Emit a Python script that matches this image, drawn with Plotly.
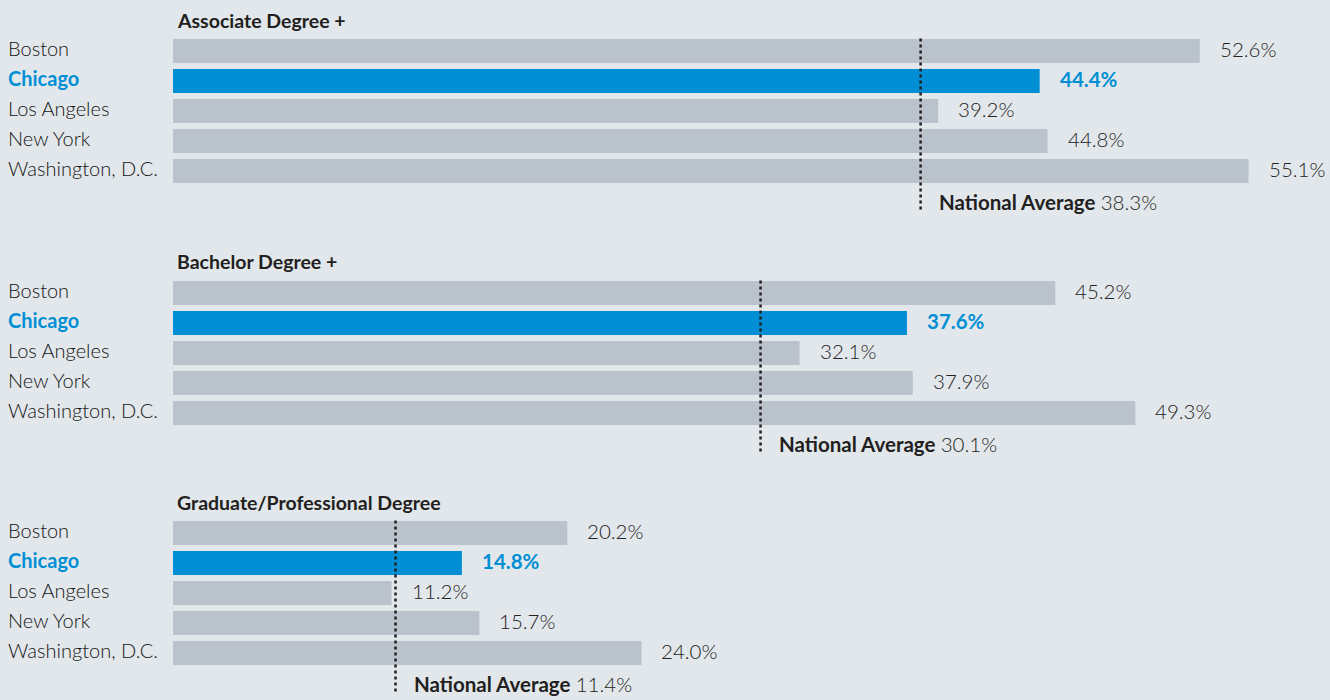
import plotly.graph_objects as go
from plotly.subplots import make_subplots

cities = ["Boston", "Chicago", "Los Angeles", "New York", "Washington, D.C."]
panels = ["Associate Degree +", "Bachelor Degree +", "Graduate/Professional Degree"]
associate = [52.6, 44.4, 39.2, 44.8, 55.1]
bachelor = [45.2, 37.6, 32.1, 37.9, 49.3]
graduate = [20.2, 14.8, 11.2, 15.7, 24.0]
national = [38.3, 30.1, 11.4]
highlight = "Chicago"

BG = "#e2e7eb"
GREY = "#bac3cb"
BLUE = "#008fd5"
INK = "#231f20"
FONT = "Lato"

series = [associate, bachelor, graduate]

fig = make_subplots(rows=3, cols=1, vertical_spacing=0)

# pixel spans of each panel (top, bottom) and row pitch of 30px
spans = [(0, 232), (242, 472), (482, 700)]
first_row = [51, 293, 533]
pitch = 30.0
left = 173
plot_w = 1330 - left

for i, vals in enumerate(series):
    r = i + 1
    colors = [BLUE if c == highlight else GREY for c in cities]
    fig.add_trace(go.Bar(
        x=vals, y=list(range(len(cities))), orientation="h",
        marker=dict(color=colors, line=dict(width=0)),
        width=0.8, showlegend=False, hoverinfo="skip",
    ), row=r, col=1)

    top, bot = spans[i]
    y_top = -(first_row[i] - top) / pitch
    y_bot = (bot - first_row[i]) / pitch
    yax = "yaxis" if i == 0 else f"yaxis{r}"
    xax = "xaxis" if i == 0 else f"xaxis{r}"
    fig.layout[yax].update(range=[y_bot, y_top], domain=[1 - bot / 700, 1 - top / 700],
                           visible=False, fixedrange=True)
    fig.layout[xax].update(range=[0, plot_w / 19.52], visible=False, fixedrange=True)

    xref = "x" if i == 0 else f"x{r}"
    yref = "y" if i == 0 else f"y{r}"

    # panel title
    fig.add_annotation(x=0, y=-1, xref=xref, yref=yref, text=f"<b>{panels[i]}</b>",
                       showarrow=False, xanchor="left", yanchor="middle", xshift=2, yshift=1,
                       font=dict(family=FONT, size=19.5, color=INK))

    for j, c in enumerate(cities):
        hl = c == highlight
        label = f"<b>{c}</b>" if hl else c
        fig.add_annotation(x=(6 - left) / plot_w, y=j, xref="paper", yref=yref, text=label,
                           showarrow=False, xanchor="left", yanchor="middle", yshift=3,
                           font=dict(family=FONT, size=20, color=BLUE if hl else "#151515",
                                     weight=None if hl else 300))
        val = f"{vals[j]:.1f}%"
        fig.add_annotation(x=vals[j], y=j, xref=xref, yref=yref,
                           text=f"<b>{val}</b>" if hl else val,
                           showarrow=False, xanchor="left", yanchor="middle", xshift=18, yshift=2,
                           font=dict(family=FONT, size=20.5, color=BLUE if hl else "#222222",
                                     weight=None if hl else 300))

    # national average marker
    fig.add_shape(type="line", x0=national[i], x1=national[i], y0=-0.42, y1=5.35,
                  xref=xref, yref=yref, line=dict(color=INK, width=2.5, dash="dot"))
    fig.add_annotation(x=national[i], y=5.07, xref=xref, yref=yref,
                       text=f"<b>National Average</b> <span style='font-weight:300'>{national[i]:.1f}%</span>",
                       showarrow=False, xanchor="left", yanchor="middle", xshift=16, yshift=1,
                       font=dict(family=FONT, size=20.5, color=INK))

fig.update_layout(
    width=1330, height=700,
    margin=dict(l=left, r=0, t=0, b=0),
    paper_bgcolor=BG, plot_bgcolor=BG,
    bargap=0.2,
)

fig.write_html("out.html", config={"displayModeBar": False},
               post_script="document.body.style.margin='0';")
